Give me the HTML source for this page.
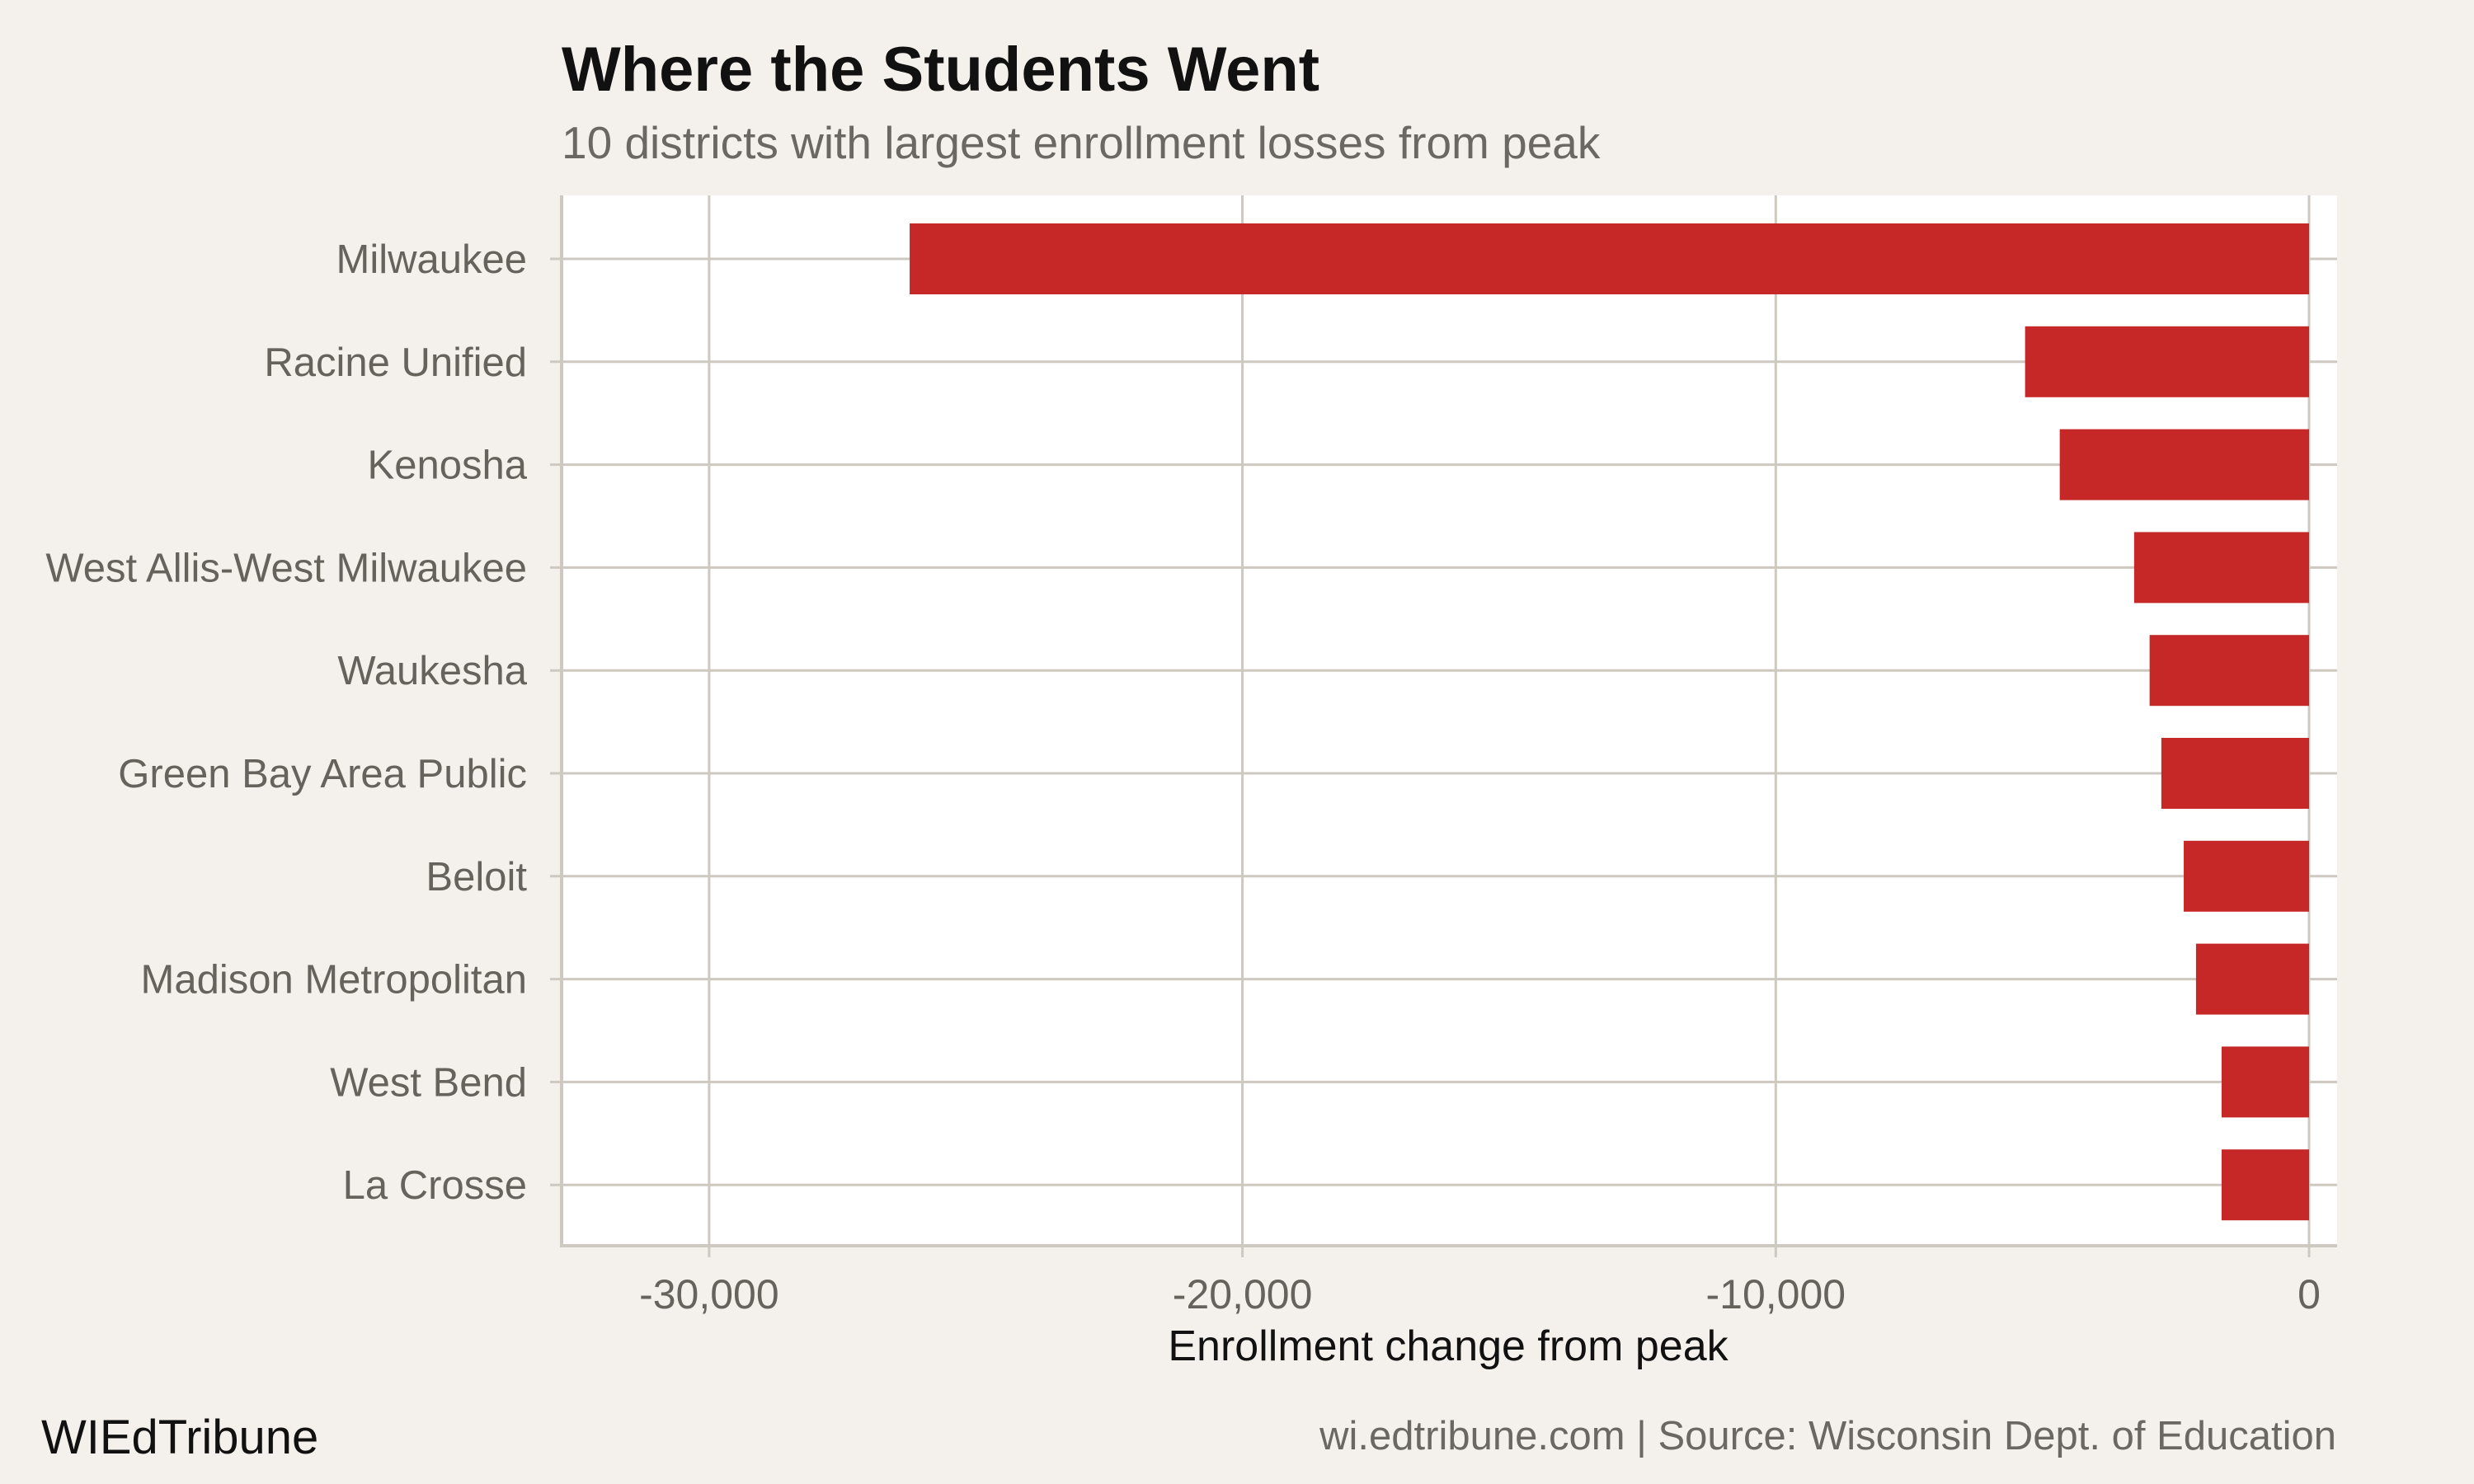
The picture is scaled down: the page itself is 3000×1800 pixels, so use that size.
<!DOCTYPE html>
<html><head><meta charset="utf-8"><style>
body{margin:0;background:#f4f1ec;}
svg{display:block;font-family:"Liberation Sans",sans-serif;}
</style></head><body>
<svg id="chart" width="3000" height="1800" viewBox="0 0 3000 1800">
<rect width="3000" height="1800" fill="#f4f1ec"/>
<text x="681" y="110" font-size="76" font-weight="bold" fill="#111">Where the Students Went</text>
<text x="681" y="192" font-size="55" fill="#6b6762">10 districts with largest enrollment losses from peak</text>
<rect x="681" y="237" width="2153" height="1274" fill="#fff"/>
<g id="grid"></g>
<g id="bars"></g>
<g id="axes"></g>
<text x="1756" y="1650" font-size="52" text-anchor="middle" fill="#111">Enrollment change from peak</text>
<text x="50" y="1763" font-size="58" fill="#111">WIEdTribune</text>
<text x="2833" y="1758" font-size="49" text-anchor="end" fill="#6b6762">wi.edtribune.com | Source: Wisconsin Dept. of Education</text>
</svg>
<script>
const categories=["Milwaukee","Racine Unified","Kenosha","West Allis-West Milwaukee","Waukesha","Green Bay Area Public","Beloit","Madison Metropolitan","West Bend","La Crosse"];
const values=[-26240,-5325,-4675,-3280,-2990,-2770,-2350,-2120,-1640,-1640];
const ticks=[-30000,-20000,-10000,0];
const tickLabels=["-30,000","-20,000","-10,000","0"];
(function(){
const NS="http://www.w3.org/2000/svg";
const pL=681,pR=2834,pT=237,pB=1511;
const xs=v=>2800+v*0.06467;
const band=124.8, ys=i=>314+i*band, bh=86;
function mk(tag,attrs,parent){const e=document.createElementNS(NS,tag);for(const k in attrs)e.setAttribute(k,attrs[k]);parent.appendChild(e);return e;}
const grid=document.getElementById('grid'),bars=document.getElementById('bars'),axes=document.getElementById('axes');
const gc="#cdc8c0";
ticks.forEach((t,i)=>{
  const l=mk('line',{x1:xs(t),x2:xs(t),y1:pT,y2:pB+14,stroke:gc,'stroke-width':3},grid);
  
  
  const tx=mk('text',{x:xs(t),y:1587,'font-size':50,'text-anchor':'middle',fill:'#66625c'},axes);
  tx.textContent=tickLabels[i];
  
  
});
categories.forEach((c,i)=>{
  const l=mk('line',{x1:pL-14,x2:pR,y1:ys(i),y2:ys(i),stroke:gc,'stroke-width':3},grid);
  
  
  const b=mk('rect',{x:xs(values[i]),y:ys(i)-bh/2,width:xs(0)-xs(values[i]),height:bh,fill:'#c62828'},bars);
  
  
  const t=mk('text',{x:639,y:ys(i)+17,'font-size':49,'text-anchor':'end',fill:'#66625c'},axes);
  t.textContent=c;
  
  
});
const al=mk('path',{d:`M${pL} ${pT}V${pB}H${pR}`,fill:'none',stroke:gc,'stroke-width':4},axes);


})();
</script>
</body></html>
